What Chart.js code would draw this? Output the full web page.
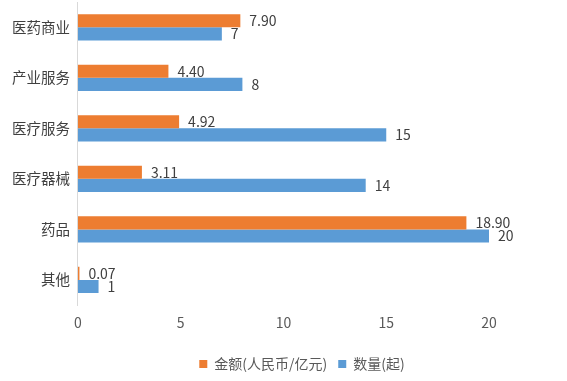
<!DOCTYPE html>
<html lang="zh">
<head>
    <meta charset="UTF-8">
    <title>医药行业投融资</title>
    <style>
        html, body { margin: 0; padding: 0; background: #fff; }
        #wrap { width: 567px; height: 381px; }
    </style>
</head>
<body>
    <div id="wrap"><canvas id="myChart" width="567" height="381"></canvas></div>

    <script src="https://cdn.jsdelivr.net/npm/chart.js@4.4.0/dist/chart.umd.min.js"></script>
    <script>
        // data
        const categories = ['医药商业', '产业服务', '医疗服务', '医疗器械', '药品', '其他'];
        const amountLabel = '金额(人民币/亿元)';
        const amountValues = [7.90, 4.40, 4.92, 3.11, 18.90, 0.07];
        const countLabel = '数量(起)';
        const countValues = [7, 8, 15, 14, 20, 1];
        const xTicks = [0, 5, 10, 15, 20];

        const FONT = '"Noto Sans CJK SC", "Noto Sans", sans-serif';

        // simple value labels at the end of each bar
        const barLabels = {
            id: 'barLabels',
            afterDatasetsDraw(chart) {
                const ctx = chart.ctx;
                ctx.save();
                ctx.font = '14px ' + FONT;
                ctx.fillStyle = '#404040';
                ctx.textBaseline = 'middle';
                ctx.textAlign = 'left';
                chart.data.datasets.forEach((ds, i) => {
                    const meta = chart.getDatasetMeta(i);
                    meta.data.forEach((bar, j) => {
                        const v = ds.data[j];
                        const txt = i === 0 ? v.toFixed(2) : String(v);
                        ctx.fillText(txt, bar.x + 9, bar.y);
                    });
                });
                ctx.restore();
            }
        };

        // the legend in the original sits a bit right of the plot centre
        const legendShift = {
            id: 'legendShift',
            afterLayout(chart) {
                const dx = 302 - (chart.legend.left + chart.legend.right) / 2;
                chart.legend.left += dx;
                chart.legend.right += dx;
            }
        };

        new Chart(document.getElementById('myChart'), {
            type: 'bar',
            data: {
                labels: categories,
                datasets: [
                    { label: amountLabel, data: amountValues, backgroundColor: '#ED7D31' },
                    { label: countLabel, data: countValues, backgroundColor: '#5B9BD5' }
                ]
            },
            options: {
                indexAxis: 'y',
                responsive: false,
                animation: false,
                layout: { padding: { left: 4, right: 78, top: 2, bottom: 0 } },
                datasets: {
                    bar: { categoryPercentage: 0.52, barPercentage: 1.0 }
                },
                scales: {
                    x: {
                        min: 0,
                        max: 20,
                        afterBuildTicks: axis => { axis.ticks = xTicks.map(v => ({ value: v })); },
                        afterFit: s => { s.height += 6; },
                        grid: { display: false, drawTicks: false },
                        border: { display: false },
                        ticks: { color: '#595959', font: { family: FONT, size: 14 }, padding: 9 }
                    },
                    y: {
                        afterFit: s => { s.paddingTop = 0; s.paddingBottom = 0; },
                        grid: { display: false, drawTicks: false },
                        border: { color: '#d9d9d9' },
                        ticks: { color: '#404040', font: { family: FONT, size: 14.5 }, padding: 8 }
                    }
                },
                plugins: {
                    legend: {
                        position: 'bottom',
                        labels: {
                            color: '#595959',
                            font: { family: FONT, size: 14 },
                            boxWidth: 8,
                            boxHeight: 8,
                            padding: 11
                        }
                    },
                    tooltip: { enabled: false }
                }
            },
            plugins: [barLabels, legendShift]
        });
    </script>
</body>
</html>
